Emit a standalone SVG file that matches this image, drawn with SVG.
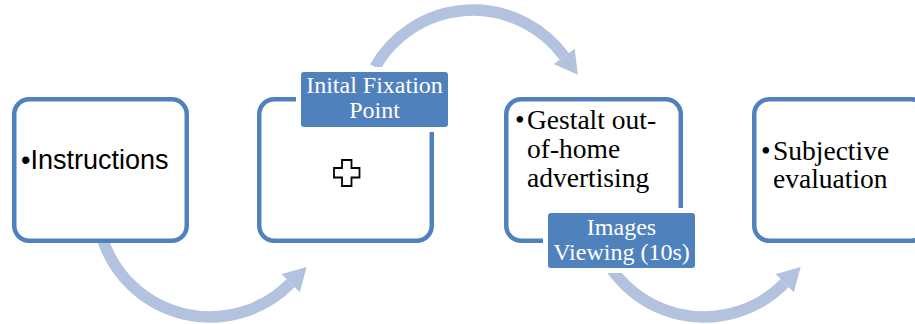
<svg xmlns="http://www.w3.org/2000/svg" width="915" height="324" viewBox="0 0 915 324">
  <style>
    .box { fill: #ffffff; stroke: #4F81BD; stroke-width: 4.5; }
    .label { fill: #4F81BD; stroke: #ffffff; stroke-width: 10; paint-order: stroke; }
    .arrow { fill: none; stroke: #B3C2DE; stroke-width: 11.5; }
    .sans { font-family: "Liberation Sans", Arial, sans-serif; font-size: 27px; fill: #000000; }
    .serif { font-family: "Liberation Serif", "Times New Roman", serif; font-size: 27.5px; fill: #000000; }
    .lbl { font-family: "Liberation Serif", "Times New Roman", serif; font-size: 24px; fill: #ffffff; text-anchor: middle; }
  </style>
  <defs>
    <marker id="head" markerUnits="userSpaceOnUse" markerWidth="26" markerHeight="27" refX="0" refY="13" orient="auto" viewBox="0 0 26 26">
      <path d="M0,0 L23,13 L0,26 Z" fill="#B3C2DE"/>
    </marker>
  </defs>

  <rect width="915" height="324" fill="#ffffff"/>

  <!-- curved arrows between the steps -->
  <g id="connectors">
    <path class="arrow" d="M102.9,240 A113,113 0 0 0 290.5,283.3" marker-end="url(#head)"/>
    <path class="arrow" d="M375,67 A113,113 0 0 1 564.2,56.3" marker-end="url(#head)"/>
    <path class="arrow" d="M596.9,240 A113,113 0 0 0 784.5,283.3" marker-end="url(#head)"/>
  </g>

  <g id="step-instructions">
    <rect class="box" x="14.25" y="99.25" width="172.5" height="141.5" rx="15"/>
    <text class="sans" x="21" y="169">•Instructions</text>
  </g>

  <g id="step-fixation">
    <rect class="box" x="259.25" y="99.25" width="172.5" height="141.5" rx="15"/>
    <rect class="label" x="301" y="72" width="147" height="55" rx="3"/>
    <text class="lbl" x="374.5" y="93">Inital Fixation</text>
    <text class="lbl" x="374.5" y="118">Point</text>
    <path d="M342,160 h9.5 v8 h8 v9.5 h-8 v8.5 h-9.5 v-8.5 h-8 v-9.5 h8 Z" fill="#ffffff" stroke="#000000" stroke-width="1.8" stroke-linejoin="miter"/>
  </g>

  <g id="step-viewing">
    <rect class="box" x="506.25" y="99.25" width="174.5" height="141.5" rx="15"/>
    <text class="serif" x="515" y="128.5">•</text>
    <text class="serif" x="527" y="128.5">Gestalt out-</text>
    <text class="serif" x="527" y="158">of-home</text>
    <text class="serif" x="527" y="187">advertising</text>
    <rect class="label" x="548" y="213" width="147" height="55" rx="3"/>
    <text class="lbl" x="621.5" y="235">Images</text>
    <text class="lbl" x="621.5" y="260">Viewing (10s)</text>
  </g>

  <g id="step-evaluation">
    <rect class="box" x="754.25" y="99.25" width="172.5" height="141.5" rx="15"/>
    <text class="serif" x="761" y="160">•</text>
    <text class="serif" x="773" y="160">Subjective</text>
    <text class="serif" x="773" y="188">evaluation</text>
  </g>
</svg>
